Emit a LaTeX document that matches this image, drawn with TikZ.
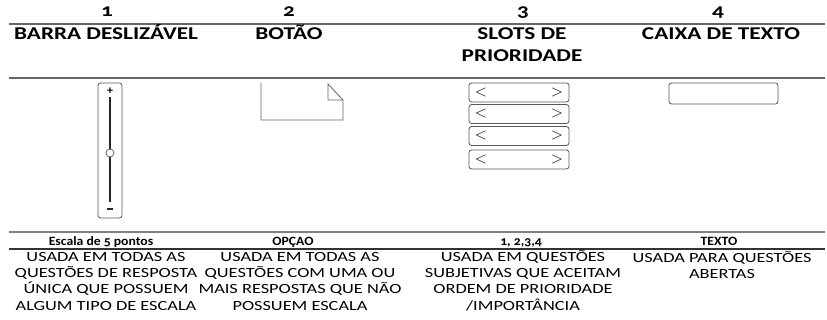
\documentclass[tikz,border=0pt]{standalone}
\usepackage{fontspec}
\setmainfont{Carlito}[Numbers=OldStyle]
\newfontfamily\headfont{Carlito}[Numbers=OldStyle, FakeStretch=1.29]
\newfontfamily\bodyfont{Carlito}[Numbers=OldStyle, FakeStretch=1.31]
\newfontfamily\subfont{Carlito}[Numbers=OldStyle, FakeStretch=1.08]
\begin{document}
\begin{tikzpicture}[x=0.75pt,y=-0.75pt,
  num/.style={font=\headfont\fontsize{13.5}{14}\selectfont\bfseries, anchor=base, inner sep=0pt},
  head/.style={font=\headfont\fontsize{13.5}{16.5}\selectfont\bfseries, align=center, anchor=base, inner sep=0pt},
  sub/.style={font=\subfont\fontsize{9.5}{10}\selectfont\bfseries, anchor=base, inner sep=0pt},
  body/.style={font=\bodyfont\fontsize{10.5}{12}\selectfont, align=center, anchor=base, inner sep=0pt},
  rule/.style={draw=black!60, line width=0.9pt},
  widget/.style={draw=black!65, line width=0.6pt, rounded corners=2pt}]
\useasboundingbox (0,0) rectangle (827,320);
% rules
\coordinate (r1a) at (9,24);  \coordinate (r1b) at (825,24);
\coordinate (r2a) at (9,78);  \coordinate (r2b) at (825,78);
\coordinate (r3a) at (9,232); \coordinate (r3b) at (825,232);
\coordinate (r4a) at (9,249); \coordinate (r4b) at (825,249);
\draw[rule] (r1a) -- (r1b);
\draw[rule] (r2a) -- (r2b);
\draw[draw=black!50, line width=1.5pt] (r3a) -- (r3b);
\draw[draw=black!80, line width=1.1pt] (r4a) -- (r4b);
% numbers
\node[num] (n1) at (107,17) {1};
\node[num] (n2) at (289,17) {2};
\node[num] (n3) at (523,17) {3};
\node[num] (n4) at (718,17) {4};
% headers (base = baseline of last line)
\node[head] (h1) at (106,40) {BARRA DESLIZÁVEL};
\node[head] (h2) at (289,40) {BOTÃO};
\node[head] (h3) at (522,62) {SLOTS DE\\PRIORIDADE};
\node[head] (h4) at (721,40) {CAIXA DE TEXTO};
% slider
\node[widget, minimum width=24*0.75pt, minimum height=135*0.75pt, inner sep=0pt] (slider) at (110,150.5) {};
\coordinate (bt) at (110,97); \coordinate (bb) at (110,202);
\draw[line width=2.2pt, black!85] (bt) -- (bb);
\node[font=\fontsize{9}{9}\selectfont\bfseries, inner sep=0pt] (plus) at (110,91.5) {+};
\node[fill=black!85, minimum width=6*0.75pt, minimum height=1.6*0.75pt, inner sep=0pt] (minus) at (110,209) {};
\node[circle, draw=black!70, fill=white, line width=0.5pt, minimum size=8*0.75pt, inner sep=0pt] (knob) at (110,153) {};
% button
\coordinate (b1) at (261,83); \coordinate (b2) at (261,120);
\coordinate (b3) at (343,120); \coordinate (b4) at (343,100);
\coordinate (b5) at (328,100); \coordinate (b6) at (328,84);
\draw[black!60, line width=0.6pt] (b1) -- (b2) -- (b3) -- (b4) -- (b5) -- (b6) -- (b4);
% slots
\foreach \i/\y in {1/92.5, 2/114, 3/136, 4/159.5}{
  \node[widget, minimum width=100*0.75pt, minimum height=19*0.75pt, inner sep=0pt] (slot\i) at (519,\y) {};
  \node[font=\fontsize{12}{12}\selectfont, inner sep=0pt, anchor=west] (sl\i) at ([xshift=6*0.75pt]slot\i.west) {$<$};
  \node[font=\fontsize{12}{12}\selectfont, inner sep=0pt, anchor=east] (sr\i) at ([xshift=-6*0.75pt]slot\i.east) {$>$};
}
% text box
\node[widget, minimum width=109*0.75pt, minimum height=21*0.75pt, inner sep=0pt] (tbox) at (723.5,93.5) {};
% sub headings
\node[sub] (s1) at (101,245) {Escala de 5 pontos};
\node[sub] (s2) at (293,245) {OPÇAO};
\node[sub] (s3) at (521,245) {1, 2,3,4};
\node[sub] (s4) at (719,245) {TEXTO};
% descriptions (base = baseline of last line)
\node[body] (d1) at (106,310) {USADA EM TODAS AS\\QUESTÕES DE RESPOSTA\\ÚNICA QUE POSSUEM\\ALGUM TIPO DE ESCALA};
\node[body] (d2) at (300,310) {USADA EM TODAS AS\\QUESTÕES COM UMA OU\\MAIS RESPOSTAS QUE NÃO\\POSSUEM ESCALA};
\node[body] (d3) at (523,310) {USADA EM QUESTÕES\\SUBJETIVAS QUE ACEITAM\\ORDEM DE PRIORIDADE\\/IMPORTÂNCIA};
\node[body] (d4) at (722,278) {USADA PARA QUESTÕES\\ABERTAS};
\end{tikzpicture}
\end{document}
